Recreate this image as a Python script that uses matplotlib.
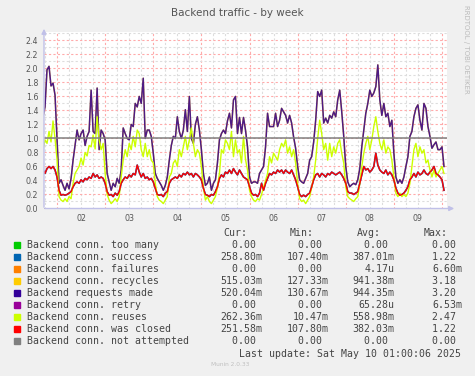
import numpy as np
import matplotlib
matplotlib.use("Agg")
import matplotlib.pyplot as plt

W, H = 475, 376

# hourly samples, first one at May 1 17:00 (x axis in days of May)
START_DAY = 1 + 17 / 24
STEP_HOURS = 1

requests = [1.31, 1.45, 1.98, 2.03, 1.75, 1.79, 1.62, 1.00, 0.36, 0.41,
            0.33, 0.26, 0.36, 0.28, 0.43, 0.69, 0.90, 1.12, 0.98, 1.07,
            1.12, 0.90, 1.03, 1.10, 1.69, 1.10, 1.07, 1.72, 0.84, 1.12,
            1.07, 0.98, 0.50, 0.38, 0.26, 0.36, 0.31, 0.43, 0.36, 0.55,
            1.15, 1.07, 1.00, 0.98, 1.20, 1.17, 1.50, 1.45, 1.60, 1.50,
            1.86, 1.00, 1.12, 1.12, 1.03, 0.79, 0.50, 0.43, 0.38, 0.33,
            0.26, 0.33, 0.45, 0.69, 0.90, 1.03, 1.00, 1.31, 1.10, 1.00,
            1.12, 1.41, 1.10, 1.60, 1.00, 0.93, 1.20, 1.31, 1.12, 0.84,
            0.50, 0.33, 0.36, 0.45, 0.26, 0.36, 0.41, 0.65, 0.98, 1.07,
            1.12, 1.07, 1.25, 1.36, 1.15, 1.55, 1.60, 1.07, 1.30, 1.07,
            1.30,
            1.12, 0.88, 0.45, 0.36, 0.38, 0.38, 0.36, 0.50, 0.55, 0.60,
            0.88, 1.36, 1.17, 1.17, 1.17, 1.36, 1.17, 1.26, 1.43, 1.38,
            1.33, 1.22, 1.33, 1.22, 1.02, 0.86, 0.60, 0.41, 0.38, 0.36,
            0.43, 0.50, 0.69, 0.74, 0.95, 1.26, 1.67, 1.60, 1.69, 1.22,
            1.29, 1.22, 1.33, 1.29, 1.38, 1.31, 1.55, 1.69, 1.38, 1.03,
            0.60, 0.38, 0.31, 0.34, 0.36, 0.34, 0.41, 0.57, 0.88, 1.12,
            1.36, 1.50, 1.69, 1.60, 1.65, 1.74, 2.05, 1.55, 1.33, 1.50,
            1.31, 1.36, 1.17, 1.26, 0.79, 0.45, 0.36, 0.41, 0.36, 0.45,
            0.60, 0.74, 1.03, 1.10, 1.31, 1.43, 1.48, 1.26, 1.12, 1.50,
            1.43, 1.17, 1.03, 0.86, 0.91, 0.95, 0.84, 0.84, 0.88, 0.60]

# recycles reads the same as requests made at this scale (drawn underneath)
recycles = requests

reuses = [0.84, 0.98, 0.93, 1.10, 0.95, 1.25, 1.00, 0.70, 0.17, 0.12,
          0.10, 0.14, 0.10, 0.17, 0.14, 0.36, 0.50, 0.55, 0.60, 0.72,
          0.62, 0.80, 0.75, 0.90, 0.88, 1.05, 0.85, 1.31, 0.98, 0.84,
          0.93, 0.50, 0.20, 0.12, 0.07, 0.10, 0.14, 0.10, 0.17, 0.45,
          0.69, 0.84, 0.74, 0.93, 0.84, 1.03, 0.88, 1.12, 1.07, 0.84,
          0.74, 0.93, 0.74, 0.84, 0.69, 0.65, 0.36, 0.17, 0.12, 0.10,
          0.07, 0.12, 0.17, 0.45, 0.50, 0.65, 0.69, 0.60, 0.84, 0.74,
          0.88, 1.03, 0.84, 0.98, 1.15, 0.93, 0.74, 0.84, 0.79, 0.60,
          0.30, 0.12, 0.17, 0.10, 0.07, 0.12, 0.17, 0.30, 0.50, 0.84,
          0.79, 0.98, 0.93, 0.84, 1.10, 0.74, 0.98, 0.79, 0.84, 0.65,
          1.03,
          0.70, 0.55, 0.26, 0.17, 0.12, 0.10, 0.14, 0.12, 0.20, 0.30,
          0.40, 0.50, 0.74, 0.65, 0.79, 0.74, 0.69, 0.84, 0.93, 0.88,
          0.98, 0.79, 0.88, 0.74, 0.84, 0.65, 0.36, 0.14, 0.10, 0.12,
          0.07, 0.12, 0.17, 0.30, 0.45, 0.69, 1.00, 1.26, 1.07, 0.84,
          0.93, 0.69, 0.93, 0.74, 0.88, 0.79, 0.93, 0.98, 0.79, 0.65,
          0.31, 0.17, 0.14, 0.12, 0.10, 0.14, 0.17, 0.36, 0.60, 0.79,
          0.93, 1.03, 0.84, 0.98, 1.17, 1.31, 1.10, 0.93, 0.84, 0.98,
          0.79, 0.88, 0.84, 0.69, 0.45, 0.22, 0.17, 0.22, 0.17, 0.20,
          0.17, 0.22, 0.36, 0.60, 0.84, 0.93, 0.74, 0.88, 0.79, 0.84,
          0.65, 0.69, 0.55, 0.45, 0.55, 0.45, 0.50, 0.55, 0.60, 0.50]

closed = [0.55, 0.50, 0.57, 0.60, 0.57, 0.60, 0.55, 0.45, 0.26, 0.19,
          0.20, 0.19, 0.20, 0.22, 0.24, 0.31, 0.36, 0.38, 0.36, 0.41,
          0.38, 0.43, 0.41, 0.45, 0.43, 0.50, 0.45, 0.48, 0.43, 0.45,
          0.43, 0.36, 0.24, 0.19, 0.20, 0.17, 0.22, 0.19, 0.24, 0.36,
          0.41, 0.45, 0.43, 0.48, 0.45, 0.50, 0.48, 0.62, 0.52, 0.45,
          0.50, 0.43, 0.45, 0.41, 0.43, 0.38, 0.29, 0.20, 0.19, 0.20,
          0.17, 0.22, 0.24, 0.36, 0.41, 0.43, 0.45, 0.43, 0.48, 0.45,
          0.50, 0.48, 0.52, 0.48, 0.50, 0.45, 0.50, 0.48, 0.45, 0.41,
          0.29, 0.20, 0.19, 0.17, 0.20, 0.19, 0.24, 0.31, 0.43, 0.48,
          0.45, 0.52, 0.50, 0.55, 0.50, 0.57, 0.52, 0.48, 0.55, 0.50,
          0.45,
          0.43, 0.41, 0.31, 0.22, 0.19, 0.20, 0.17, 0.22, 0.36, 0.26,
          0.36, 0.43, 0.50, 0.48, 0.52, 0.50, 0.55, 0.52, 0.55, 0.50,
          0.55, 0.52, 0.50, 0.55, 0.48, 0.41, 0.31, 0.20, 0.17, 0.19,
          0.17, 0.20, 0.22, 0.31, 0.41, 0.48, 0.50, 0.45, 0.50, 0.48,
          0.45, 0.50, 0.48, 0.52, 0.50, 0.48, 0.50, 0.52, 0.48, 0.43,
          0.36, 0.24, 0.22, 0.22, 0.20, 0.22, 0.24, 0.36, 0.48, 0.60,
          0.55, 0.57, 0.52, 0.55, 0.60, 0.79, 0.62, 0.55, 0.52, 0.50,
          0.55, 0.48, 0.52, 0.48, 0.41, 0.29, 0.22, 0.19, 0.20, 0.22,
          0.26, 0.31, 0.41, 0.45, 0.50, 0.45, 0.52, 0.48, 0.50, 0.55,
          0.50, 0.48, 0.52, 0.55, 0.60, 0.50, 0.48, 0.45, 0.41, 0.26]

# success reads the same as "was closed" (drawn underneath)
success = closed

labels = ["Backend conn. too many", "Backend conn. success", "Backend conn. failures",
          "Backend conn. recycles", "Backend requests made", "Backend conn. retry",
          "Backend conn. reuses", "Backend conn. was closed", "Backend conn. not attempted"]
colors = ["#00cc00", "#0066b3", "#ff8000", "#ffcc00", "#330099",
          "#990099", "#ccff00", "#ff0000", "#808080"]
cur = ["0.00 ", "258.80m", "0.00 ", "515.03m", "520.04m", "0.00 ", "262.36m", "251.58m", "0.00 "]
vmin = ["0.00 ", "107.40m", "0.00 ", "127.33m", "130.67m", "0.00 ", "10.47m", "107.80m", "0.00 "]
avg = ["0.00 ", "387.01m", "4.17u", "941.38m", "944.35m", "65.28u", "558.98m", "382.03m", "0.00 "]
vmax = ["0.00 ", "1.22 ", "6.60m", "3.18 ", "3.20 ", "6.53m", "2.47 ", "1.22 ", "0.00 "]
day_labels = ["02", "03", "04", "05", "06", "07", "08", "09"]

t = START_DAY + np.arange(len(requests)) * STEP_HOURS / 24
zeros = np.zeros(len(t))

fig = plt.figure(figsize=(W / 100, H / 100), dpi=100, facecolor="#f0f0f0")


def px(x, y):
    return x / W, 1 - y / H


ax = fig.add_axes([44 / W, 1 - 208.5 / H, (447 - 44) / W, (208.5 - 32) / H])
ax.set_facecolor("white")
ax.set_xlim(1 + 17.5 / 24, 10 + 2.5 / 24)
ax.set_ylim(0, 2.52)
for s in ax.spines.values():
    s.set_visible(False)

# grid: grey every 6 hours / 0.1, red every day / 0.2
for d in np.arange(1.75, 10.2, 0.25):
    red = abs(d - round(d)) < 1e-6
    ax.axvline(d, color="#ffaaaa" if red else "#dddddd", lw=0.8,
               ls=(0, (2, 2)), zorder=0)
for v in np.arange(0.1, 2.55, 0.1):
    red = int(round(v * 10)) % 2 == 0
    ax.axhline(v, color="#ffaaaa" if red else "#dddddd", lw=0.8,
               ls=(0, (2, 2)), zorder=0)

ax.plot(t, zeros, color=colors[0], lw=1)
ax.plot(t, success, color=colors[1], lw=1.2)
ax.plot(t, zeros, color=colors[2], lw=1)
ax.plot(t, recycles, color=colors[3], lw=1)
ax.plot(t, requests, color=colors[4], lw=1.1, alpha=0.87)
ax.plot(t, zeros, color=colors[5], lw=1)
ax.plot(t, reuses, color=colors[6], lw=1)
ax.plot(t, closed, color=colors[7], lw=1)
ax.plot(t, zeros, color=colors[8], lw=1)
ax.axhline(1.0, color="#808080", lw=1.1)

ax.set_yticks(np.arange(0, 2.41, 0.2))
ax.set_yticklabels(["%.1f" % v for v in np.arange(0, 2.41, 0.2)])
ax.set_xticks(np.arange(2.5, 10, 1.0))
ax.set_xticklabels(day_labels)
ax.tick_params(length=0, labelsize=5.7, colors="#555555", pad=4)

# axes with arrows
ax_col = "#c0c0e8"
fig.add_artist(matplotlib.patches.FancyArrowPatch(
    px(44, 210), px(44, 26), transform=fig.transFigure, arrowstyle="-|>",
    mutation_scale=7, color=ax_col, lw=1))
fig.add_artist(matplotlib.patches.FancyArrowPatch(
    px(42, 208.5), px(457, 208.5), transform=fig.transFigure, arrowstyle="-|>",
    mutation_scale=7, color=ax_col, lw=1))

fig.text(*px(237.5, 13), "Backend traffic - by week", ha="center", va="center",
         fontsize=7.5, color="#555555")
fig.text(*px(466, 5), "RRDTOOL / TOBI OETIKER", rotation=270, ha="center", va="top",
         fontsize=5, color="#bbbbbb")

mono = {"family": "DejaVu Sans Mono", "fontsize": 7.1, "color": "#444444", "va": "center"}
for x, head in [(247, "Cur:"), (314, "Min:"), (381, "Avg:"), (448, "Max:")]:
    fig.text(*px(x, 233), head, ha="right", **mono)
for i, lab in enumerate(labels):
    y = 245.3 + 12 * i
    fig.add_artist(matplotlib.patches.Rectangle(px(14, y + 3), 6 / W, 6 / H,
                                                transform=fig.transFigure, color=colors[i]))
    fig.text(*px(26.7, y), lab, ha="left", **mono)
    fig.text(*px(262, y), cur[i], ha="right", **mono)
    fig.text(*px(328.5, y), vmin[i], ha="right", **mono)
    fig.text(*px(394.5, y), avg[i], ha="right", **mono)
    fig.text(*px(462.5, y), vmax[i], ha="right", **mono)
fig.text(*px(461, 354), "Last update: Sat May 10 01:00:06 2025", ha="right", **mono)
fig.text(*px(230, 364.5), "Munin 2.0.33", ha="center", va="center", fontsize=4.2, color="#c0c0c0")

fig.savefig("out.png", dpi=100, facecolor=fig.get_facecolor())
